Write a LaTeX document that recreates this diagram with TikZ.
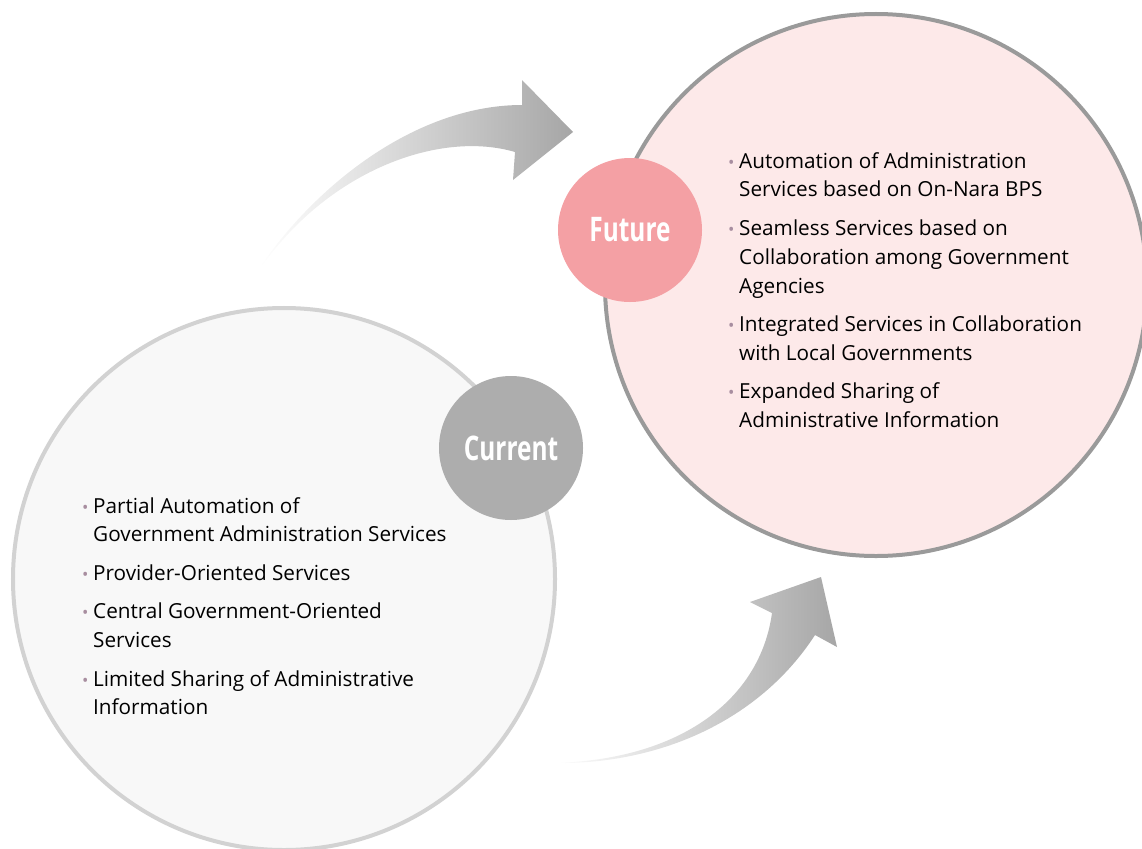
\documentclass[tikz,border=0pt]{standalone}
\usepackage{fontspec}
\setmainfont{Open Sans}
\usetikzlibrary{positioning}

\definecolor{nowfill}{HTML}{F8F8F8}
\definecolor{nowline}{HTML}{D2D2D2}
\definecolor{nextfill}{HTML}{FDE9E9}
\definecolor{nextline}{HTML}{9A9A9A}
\definecolor{nowtag}{HTML}{ADADAD}
\definecolor{nexttag}{HTML}{F4A0A4}
\definecolor{dotc}{HTML}{A88EA0}
\definecolor{arrowc}{HTML}{A6A6A6}

\newcommand{\bul}{\makebox[11bp][l]{\textcolor{dotc}{\fontsize{17}{17}\selectfont\textbullet}}}
\newcommand{\cont}{\hspace*{11bp}}

\begin{document}
\begin{tikzpicture}[x=1bp, y=-1bp,
    bigcirc/.style={circle, line width=4bp, minimum size=542bp, inner sep=0pt},
    tagcirc/.style={circle, minimum size=144bp, inner sep=0pt, text=white,
        font=\fontsize{34}{34}\selectfont\bfseries},
    points/.style={align=left, anchor=north west, inner sep=0pt,
        font=\fontsize{20.8}{29}\selectfont},
    sweep/.style={left color=white, right color=arrowc}]

    \useasboundingbox (0,0) rectangle (1142,849);

    % Arrows
    \shade[sweep] (260,267) .. controls (320,180) and (420,105) .. (522,105)
        -- (522,80) -- (573,132) -- (513,180) -- (515,152)
        .. controls (440,130) and (330,170) .. (262,266) -- cycle;
    \shade[sweep] (553,763) .. controls (680,760) and (760,700) .. (772,613)
        -- (750,602) -- (821,577) -- (837,647) -- (815,635)
        .. controls (760,720) and (660,765) .. (553,763) -- cycle;

    % Circles
    \node[bigcirc, fill=nowfill, draw=nowline]   (now)  at (284,579) {};
    \node[bigcirc, fill=nextfill, draw=nextline] (next) at (876,285) {};

    \node[tagcirc, fill=nowtag]  (nowtag)  at (511,448) {\scalebox{0.72}[1]{Current}};
    \node[tagcirc, fill=nexttag] (nexttag) at (630,230) {\scalebox{0.72}[1]{Future}};

    % Texts
    \node[points] (nowlist) at (82,497) {%
        \bul Partial Automation of\\
        \cont Government Administration Services\\[9.5bp]
        \bul Provider-Oriented Services\\[9.5bp]
        \bul Central Government-Oriented\\
        \cont Services\\[9.5bp]
        \bul Limited Sharing of Administrative\\
        \cont Information};

    \node[points] (nextlist) at (728,152) {%
        \bul Automation of Administration\\
        \cont Services based on On-Nara BPS\\[9.5bp]
        \bul Seamless Services based on\\
        \cont Collaboration among Government\\
        \cont Agencies\\[9.5bp]
        \bul Integrated Services in Collaboration\\
        \cont with Local Governments\\[9.5bp]
        \bul Expanded Sharing of\\
        \cont Administrative Information};

\end{tikzpicture}
\end{document}
